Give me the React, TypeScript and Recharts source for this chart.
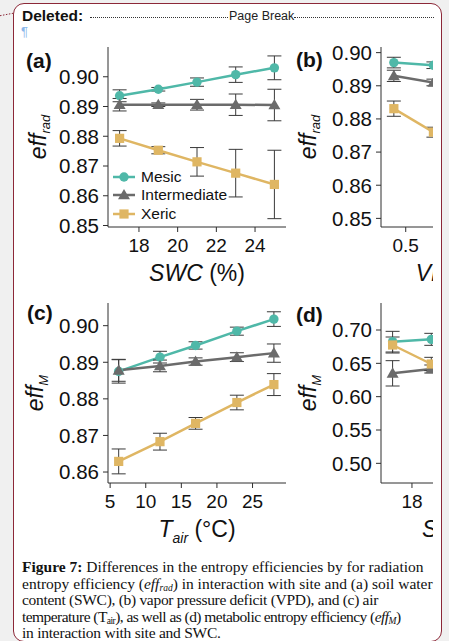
import React from 'react';
import { LineChart, Line, XAxis, YAxis, ErrorBar, Legend } from 'recharts';

// ---------- data ----------
const sites = ['Mesic', 'Intermediate', 'Xeric'];
const siteKeys = ['mesic', 'inter', 'xeric'];
const siteColors = ['#4fb8a8', '#6b6b6b', '#dfb663'];
const siteShapes = ['circle', 'triangle', 'square'];

// (a) eff_rad vs SWC
const swcA = [17, 19, 21, 23, 25];
const mesicA = [0.8936, 0.8958, 0.8982, 0.9007, 0.903];
const mesicAErr = [0.002, 0.0006, 0.0014, 0.0026, 0.004];
const interA = [0.8906, 0.8906, 0.8906, 0.8906, 0.8905];
const interAErr = [0.0021, 0.0006, 0.0018, 0.0036, 0.0053];
const xericA = [0.8793, 0.8753, 0.8714, 0.8676, 0.8638];
const xericAErr = [0.0026, 0.0012, 0.0048, 0.008, 0.0115];

// (b) eff_rad vs VPD
const vpdB = [0.38, 0.78];
const mesicB = [0.897, 0.8962];
const mesicBErr = [0.0016, 0.001];
const interB = [0.893, 0.891];
const interBErr = [0.0017, 0.001];
const xericB = [0.8831, 0.876];
const xericBErr = [0.0023, 0.0015];

// (c) eff_M vs Tair
const tairC = [6.2, 12, 17, 22.8, 28];
const mesicC = [0.8875, 0.8914, 0.8946, 0.8985, 0.9018];
const mesicCErr = [0.0032, 0.0016, 0.001, 0.0011, 0.002];
const interC = [0.8878, 0.889, 0.8902, 0.8914, 0.8925];
const interCErr = [0.003, 0.0016, 0.001, 0.0012, 0.0025];
const xericC = [0.8629, 0.8683, 0.8733, 0.879, 0.8839];
const xericCErr = [0.0034, 0.0023, 0.0016, 0.002, 0.003];

// (d) eff_M vs SWC
const swcD = [17, 19];
const mesicD = [0.6825, 0.686];
const mesicDErr = [0.0155, 0.009];
const interD = [0.635, 0.6415];
const interDErr = [0.019, 0.006];
const xericD = [0.6775, 0.649];
const xericDErr = [0.012, 0.01];

// ticks
const yTicksRad = [0.85, 0.86, 0.87, 0.88, 0.89, 0.9];
const yTicksC = [0.86, 0.87, 0.88, 0.89, 0.9];
const yTicksD = [0.5, 0.55, 0.6, 0.65, 0.7];
const xTicksA = [18, 20, 22, 24];
const xTicksB = [0.5];
const xTicksC = [5, 10, 15, 20, 25];
const xTicksD = [18];

function buildRows(xs: number[], m: number[], me: number[], i: number[], ie: number[], x: number[], xe: number[]) {
  return xs.map((v, k) => ({
    x: v,
    mesic: m[k], mesicErr: me[k],
    inter: i[k], interErr: ie[k],
    xeric: x[k], xericErr: xe[k],
  }));
}

const rowsA = buildRows(swcA, mesicA, mesicAErr, interA, interAErr, xericA, xericAErr);
const rowsB = buildRows(vpdB, mesicB, mesicBErr, interB, interBErr, xericB, xericBErr);
const rowsC = buildRows(tairC, mesicC, mesicCErr, interC, interCErr, xericC, xericCErr);
const rowsD = buildRows(swcD, mesicD, mesicDErr, interD, interDErr, xericD, xericDErr);

// ---------- styles ----------
const FONT = '"Liberation Sans", Arial, Helvetica, sans-serif';
const SERIF = '"Liberation Serif", "Times New Roman", serif';
const AXIS = '#2e2e2e';
const ERR = '#3a3a3a';
const RED = '#8c2838';

function Marker({ cx, cy, shape, color }: any) {
  if (cx == null || cy == null) return null;
  if (shape === 'circle') return <circle cx={cx} cy={cy} r={4.7} fill={color} />;
  if (shape === 'triangle') {
    const s = 6;
    return (
      <polygon
        points={`${cx},${cy - s} ${cx + s * 1.0},${cy + s * 0.72} ${cx - s * 1.0},${cy + s * 0.72}`}
        fill={color}
      />
    );
  }
  return <rect x={cx - 4.6} y={cy - 4.6} width={9.2} height={9.2} fill={color} />;
}

function LegendContent() {
  return (
    <div style={{ fontFamily: FONT, fontSize: 15.5, color: '#111' }}>
      {sites.map((s, i) => (
        <div key={s} style={{ display: 'flex', alignItems: 'center', height: 18.3, whiteSpace: 'nowrap' }}>
          <svg width={22} height={14} style={{ marginRight: 6, overflow: 'visible' }}>
            <line x1={0} y1={7} x2={22} y2={7} stroke={siteColors[i]} strokeWidth={2.5} />
            <Marker cx={11} cy={7} shape={siteShapes[i]} color={siteColors[i]} />
          </svg>
          <span>{s}</span>
        </div>
      ))}
    </div>
  );
}

function YTitle({ viewBox, sub, baselineX, subDy }: any) {
  const vb = viewBox || {};
  const plotLeft = (vb.x || 0) + (vb.width || 0);
  const cx = plotLeft - baselineX;
  const cy = 7 + 90;
  return (
    <text
      transform={`translate(${cx},${cy}) rotate(-90)`}
      textAnchor="middle"
      fontFamily={FONT}
      fill="#111"
    >
      <tspan fontSize={23} fontStyle="italic">eff</tspan>
      <tspan fontSize={13} fontStyle="italic" dy={subDy}>{sub}</tspan>
    </text>
  );
}

function XTitle({ viewBox, kind }: any) {
  const vb = viewBox || {};
  const cx = (vb.x || 0) + (vb.width || 0) / 2;
  const y = 241;
  if (kind === 'tair') {
    return (
      <text x={cx} y={y} textAnchor="middle" fontFamily={FONT} fill="#111">
        <tspan fontSize={23} fontStyle="italic">T</tspan>
        <tspan fontSize={14} fontStyle="italic" dy={6}>air</tspan>
        <tspan fontSize={23} dy={-6}>{' (°C)'}</tspan>
      </text>
    );
  }
  const main = kind === 'vpd' ? 'VPD' : 'SWC';
  const unit = kind === 'vpd' ? ' (kPa)' : ' (%)';
  return (
    <text x={cx} y={y} textAnchor="middle" fontFamily={FONT} fill="#111">
      <tspan fontSize={23} fontStyle="italic">{main}</tspan>
      <tspan fontSize={23}>{unit}</tspan>
    </text>
  );
}

function Panel({ rows, xDomain, xTicks, xFmt, yDomain, yTicks, yFmt, xKind, ySub, yBaseline, ySubDy, legend }: any) {
  return (
    <LineChart
      width={300}
      height={250}
      data={rows}
      margin={{ top: 7, right: 14, bottom: 33, left: 48 }}
    >
      <XAxis
        dataKey="x"
        type="number"
        domain={xDomain}
        ticks={xTicks}
        tickFormatter={xFmt}
        allowDataOverflow
        height={30}
        stroke={AXIS}
        tickSize={5}
        tickMargin={7}
        tick={{ fontSize: 19, fill: '#111', fontFamily: FONT }}
        label={<XTitle kind={xKind} />}
      />
      <XAxis
        xAxisId="top"
        orientation="top"
        type="number"
        domain={xDomain}
        allowDataOverflow
        height={0}
        tick={false}
        tickLine={false}
        stroke={AXIS}
      />
      <YAxis
        type="number"
        domain={yDomain}
        ticks={yTicks}
        tickFormatter={yFmt}
        allowDataOverflow
        width={60}
        stroke={AXIS}
        tickSize={5}
        tickMargin={4}
        tick={{ fontSize: 20.5, fill: '#111', fontFamily: FONT }}
        label={<YTitle sub={ySub} baselineX={yBaseline} subDy={ySubDy} />}
      />
      <YAxis
        yAxisId="right"
        orientation="right"
        type="number"
        domain={yDomain}
        allowDataOverflow
        width={0}
        tick={false}
        tickLine={false}
        stroke={AXIS}
      />
      {legend && (
        <Legend
          layout="vertical"
          align="center"
          verticalAlign="middle"
          content={<LegendContent />}
          wrapperStyle={{ left: 113, top: 128, width: 'auto' }}
        />
      )}
      {siteKeys.map((k, i) => (
        <Line
          key={k}
          dataKey={k}
          name={sites[i]}
          stroke={siteColors[i]}
          strokeWidth={2.5}
          isAnimationActive={false}
          dot={(p: any) => (
            <Marker key={`${k}-${p.index}`} cx={p.cx} cy={p.cy} shape={siteShapes[i]} color={siteColors[i]} />
          )}
          activeDot={false}
        >
          <ErrorBar dataKey={`${k}Err`} direction="y" width={7} strokeWidth={1} stroke={ERR} isAnimationActive={false} />
        </Line>
      ))}
    </LineChart>
  );
}

const f2 = (v: number) => v.toFixed(2);
const fInt = (v: number) => String(v);
const f1 = (v: number) => v.toFixed(1);

function PanelLabel({ text, left, top }: any) {
  return (
    <div style={{ position: 'absolute', left, top, font: `bold 21px ${FONT}`, color: '#111', lineHeight: '24px' }}>
      {text}
    </div>
  );
}

const subStyle: React.CSSProperties = {
  fontSize: 9.5, position: 'relative', top: 2.5, lineHeight: 0, verticalAlign: 'baseline',
};

export default function App() {
  return (
    <div
      style={{
        position: 'fixed', left: 0, top: 0, width: 449, height: 641,
        background: '#f0f0f0', overflow: 'hidden',
      }}
    >
      <svg style={{ position: 'absolute', left: 0, top: 0 }} width={20} height={30}>
        <line x1={0} y1={15.7} x2={13} y2={13.3} stroke={RED} strokeWidth={1} strokeDasharray="1.5 1.5" />
      </svg>
      <div
        style={{
          position: 'absolute', left: 13, top: 3, width: 429, height: 639,
          boxSizing: 'border-box', border: `1.5px solid ${RED}`, borderRadius: 11, background: '#fff',
        }}
      />
      {/* header */}
      <div style={{ position: 'absolute', left: 22, top: 6, font: `bold 15.5px ${FONT}`, color: '#111', lineHeight: '20px' }}>
        Deleted:
      </div>
      <div style={{ position: 'absolute', left: 90, top: 17, width: 138, borderTop: '1px dotted #333' }} />
      <div style={{ position: 'absolute', left: 229, top: 8, font: `12.5px ${FONT}`, color: '#222', lineHeight: '16px' }}>
        Page Break
      </div>
      <div style={{ position: 'absolute', left: 294, top: 17, width: 140, borderTop: '1px dotted #333' }} />
      <div style={{ position: 'absolute', left: 21, top: 24, font: `13px ${FONT}`, color: '#8ab6ea', lineHeight: '16px' }}>
        ¶
      </div>

      {/* charts, clipped at the content edge */}
      <div style={{ position: 'absolute', left: 14, top: 0, width: 419, height: 556, overflow: 'hidden' }}>
        <div style={{ position: 'absolute', left: -14, top: 40 }}>
          <Panel rows={rowsA} xDomain={[16.4, 25.6]} xTicks={xTicksA} xFmt={fInt}
            yDomain={[0.8495, 0.91]} yTicks={yTicksRad} yFmt={f2}
            xKind="swc" ySub="rad" yBaseline={62} ySubDy={4} legend />
        </div>
        <div style={{ position: 'absolute', left: 259, top: 40 }}>
          <Panel rows={rowsB} xDomain={[0.25, 2.05]} xTicks={xTicksB} xFmt={f1}
            yDomain={[0.8474, 0.9017]} yTicks={yTicksRad} yFmt={f2}
            xKind="vpd" ySub="rad" yBaseline={65} ySubDy={4} />
        </div>
        <div style={{ position: 'absolute', left: -14, top: 296 }}>
          <Panel rows={rowsC} xDomain={[4.7, 29.7]} xTicks={xTicksC} xFmt={fInt}
            yDomain={[0.857, 0.9062]} yTicks={yTicksC} yFmt={f2}
            xKind="tair" ySub="M" yBaseline={65} ySubDy={5} />
        </div>
        <div style={{ position: 'absolute', left: 259, top: 296 }}>
          <Panel rows={rowsD} xDomain={[16.4, 25.6]} xTicks={xTicksD} xFmt={fInt}
            yDomain={[0.4705, 0.7405]} yTicks={yTicksD} yFmt={f2}
            xKind="swc" ySub="M" yBaseline={65} ySubDy={5} />
        </div>
      </div>

      <PanelLabel text="(a)" left={26} top={49} />
      <PanelLabel text="(b)" left={296} top={48} />
      <PanelLabel text="(c)" left={27} top={301} />
      <PanelLabel text="(d)" left={296} top={303} />

      {/* caption */}
      <div
        style={{
          position: 'absolute', left: 22, top: 559, font: `15.5px ${SERIF}`, color: '#111',
          lineHeight: '16.6px', whiteSpace: 'nowrap',
        }}
      >
        <div><b>Figure 7:</b> Differences in the entropy efficiencies by for radiation</div>
        <div>entropy efficiency (<i>eff</i><span style={{ ...subStyle, fontStyle: 'italic' }}>rad</span>) in interaction with site and (a) soil water</div>
        <div style={{ letterSpacing: -0.3 }}>content (SWC), (b) vapor pressure deficit (VPD), and (c) air</div>
        <div style={{ letterSpacing: -0.55 }}>temperature (T<span style={subStyle}>air</span>), as well as (d) metabolic entropy efficiency (<i>eff</i><span style={{ ...subStyle, fontStyle: 'italic' }}>M</span>)</div>
        <div style={{ letterSpacing: -0.24 }}>in interaction with site and SWC.</div>
      </div>
    </div>
  );
}
